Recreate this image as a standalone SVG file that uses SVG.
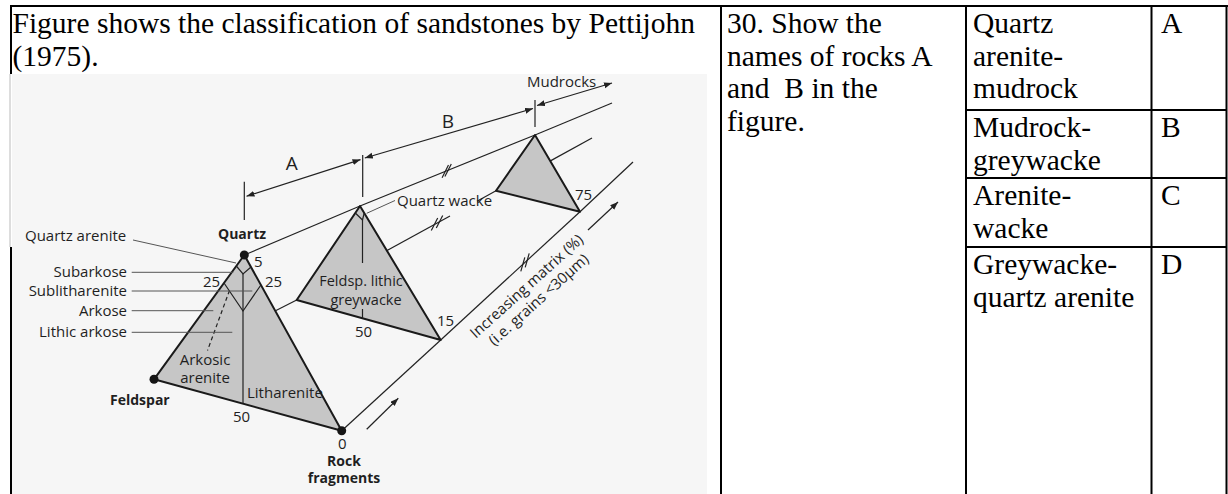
<svg xmlns="http://www.w3.org/2000/svg" width="1228" height="494" viewBox="0 0 1228 494">
<style>
.t{font-family:"Liberation Serif","Times New Roman",serif;font-size:29.5px;fill:#000}
.f{font-family:"Open Sans","Liberation Sans",sans-serif;font-size:15px;fill:#1f1f1f}
.fs{font-family:"Open Sans","Liberation Sans",sans-serif;font-size:14.5px;fill:#1f1f1f}
.fb{font-family:"Open Sans","Liberation Sans",sans-serif;font-size:14px;font-weight:700;fill:#1f1f1f}
.fa{font-family:"Open Sans","Liberation Sans",sans-serif;font-size:19px;fill:#1f1f1f}
.ln{stroke:#222;stroke-width:1.2;fill:none}
.ld{stroke:#555;stroke-width:1;fill:none}
.tri{fill:#c6c6c6;stroke:#1a1a1a;stroke-width:2;stroke-linejoin:round}
.grid{stroke:#000;stroke-width:2;fill:none}
.dot{fill:#151515}
</style>
<defs>
<marker id="ah" markerUnits="userSpaceOnUse" markerWidth="9" markerHeight="7" refX="8" refY="3" orient="auto-start-reverse">
<path d="M0,0 L8,3 L0,6 z" fill="#222"/>
</marker>
</defs>
<rect x="0" y="0" width="1228" height="494" fill="#fff"/>

<g id="figure-image">
<rect x="12" y="74" width="695" height="420" fill="#f6f6f6"/>

<g id="prism-lines">
<line class="ln" x1="244.3" y1="255" x2="360" y2="206"/>
<line class="ln" x1="360" y1="206" x2="535" y2="135"/>
<line class="ln" x1="535" y1="135" x2="612" y2="103"/>
<line class="ln" x1="275.5" y1="310.8" x2="296.7" y2="300"/>
<line class="ln" x1="296.7" y1="300" x2="450" y2="216"/>
<line class="ln" x1="477" y1="201.2" x2="496" y2="190.7"/>
<line class="ln" x1="549.5" y1="161.4" x2="592" y2="138"/>
<line class="ln" x1="341.7" y1="430.7" x2="440.7" y2="340"/>
<line class="ln" x1="440.7" y1="340" x2="580" y2="211.7"/>
<line class="ln" x1="580" y1="211.7" x2="633" y2="162"/>
<line class="ln" x1="442.1" y1="177.7" x2="448.5" y2="165.1"/>
<line class="ln" x1="444.9" y1="176.5" x2="451.3" y2="163.9"/>
<line class="ln" x1="431.3" y1="230.6" x2="437.7" y2="218"/>
<line class="ln" x1="436.3" y1="228" x2="442.7" y2="215.4"/>
<line class="ln" x1="520.8" y1="271.4" x2="524.8" y2="257.4"/>
<line class="ln" x1="525.2" y1="267.4" x2="529.2" y2="253.4"/>
<line class="ln" x1="366.7" y1="429.3" x2="398.3" y2="398.3" marker-end="url(#ah)"/>
<line class="ln" x1="588" y1="230" x2="618" y2="202" marker-end="url(#ah)"/>
</g>

<g id="dimensions">
<line class="ln" x1="244.3" y1="181.7" x2="244.3" y2="220"/>
<line class="ln" x1="362.7" y1="155" x2="362.7" y2="197"/>
<line class="ln" x1="535" y1="100" x2="535" y2="127"/>
<line class="ln" x1="246.5" y1="196.2" x2="360.5" y2="159.6" marker-start="url(#ah)" marker-end="url(#ah)"/>
<line class="ln" x1="364.8" y1="158" x2="533" y2="108.5" marker-start="url(#ah)" marker-end="url(#ah)"/>
<line class="ln" x1="537" y1="105.5" x2="612" y2="83" marker-start="url(#ah)" marker-end="url(#ah)"/>
<text class="fa" x="291.7" y="170" text-anchor="middle">A</text>
<text class="fa" x="448" y="128" text-anchor="middle">B</text>
<text class="f" x="527" y="86.5">Mudrocks</text>
</g>

<g id="triangle-1">
<polygon class="tri" points="244.3,255 154,379.3 341.7,430.7"/>
<polyline class="ln" points="236.3,266 243,274 251,267"/>
<polyline class="ln" points="224,283 243,311 260.9,285"/>
<line class="ln" x1="243" y1="274" x2="243" y2="403.6"/>
<line class="ln" x1="229.5" y1="290.5" x2="207.5" y2="350.5" stroke-dasharray="4 3"/>
<line class="ld" x1="133" y1="240" x2="236" y2="263"/>
<line class="ld" x1="131.7" y1="272.3" x2="233.3" y2="272.3"/>
<line class="ld" x1="131.7" y1="291" x2="252.3" y2="291"/>
<line class="ld" x1="131.7" y1="310.7" x2="213.3" y2="310.7"/>
<line class="ld" x1="131.7" y1="332.3" x2="232.3" y2="332.3"/>
<circle class="dot" cx="244.3" cy="255" r="4.5"/>
<circle class="dot" cx="154" cy="379.3" r="4.5"/>
<circle class="dot" cx="341.7" cy="430.7" r="4.5"/>
<text class="f" x="25" y="241">Quartz arenite</text>
<text class="f" x="127" y="277" text-anchor="end">Subarkose</text>
<text class="f" x="127" y="296" text-anchor="end">Sublitharenite</text>
<text class="f" x="127" y="316" text-anchor="end">Arkose</text>
<text class="f" x="127" y="337" text-anchor="end">Lithic arkose</text>
<text class="fb" x="218" y="239">Quartz</text>
<text class="f" x="254" y="267">5</text>
<text class="f" x="203" y="287">25</text>
<text class="f" x="265" y="287">25</text>
<text class="f" x="205" y="364.5" text-anchor="middle">Arkosic</text>
<text class="f" x="205" y="383" text-anchor="middle">arenite</text>
<text class="f" x="247" y="397.5">Litharenite</text>
<text class="fb" x="110" y="404.5">Feldspar</text>
<text class="f" x="233" y="421.5">50</text>
<text class="f" x="338" y="449">0</text>
<text class="fb" x="344" y="466" text-anchor="middle">Rock</text>
<text class="fb" x="344" y="483" text-anchor="middle">fragments</text>
</g>

<g id="triangle-2">
<polygon class="tri" points="360,206 296.7,300 440.7,340"/>
<polyline class="ln" points="355.3,213 362.5,220 364.2,213"/>
<line class="ln" x1="362.5" y1="220" x2="362.5" y2="263"/>
<line class="ln" x1="362.5" y1="309" x2="362.5" y2="318.3"/>
<line class="ld" x1="366.7" y1="213.3" x2="395" y2="200.5"/>
<text class="fs" x="361" y="285.5" text-anchor="middle">Feldsp. lithic</text>
<text class="fs" x="366" y="304.5" text-anchor="middle">greywacke</text>
<text class="f" x="355" y="337">50</text>
<text class="f" x="437" y="326">15</text>
<text class="f" x="397" y="206">Quartz wacke</text>
</g>

<g id="triangle-3">
<polygon class="tri" points="535,135 496,190.7 580,211.7"/>
<text class="f" x="575" y="200">75</text>
</g>

<g id="axis-label">
<text class="f" x="530" y="290" text-anchor="middle" transform="rotate(-42 530 290)">Increasing matrix (%)</text>
<text class="f" x="542" y="303.4" text-anchor="middle" transform="rotate(-42 542 303.4)">(i.e. grains &lt;30μm)</text>
</g>
</g>

<g id="table-lines">
<line class="grid" x1="10" y1="6" x2="1228" y2="6" stroke-width="1.5"/>
<line class="grid" x1="11" y1="6" x2="11" y2="74"/>
<line x1="10" y1="74" x2="10" y2="247" stroke="#bbb" stroke-width="1"/>
<line class="grid" x1="11" y1="247" x2="11" y2="494"/>
<line class="grid" x1="721" y1="6" x2="721" y2="494"/>
<line class="grid" x1="966" y1="6" x2="966" y2="494"/>
<line class="grid" x1="1151.5" y1="6" x2="1151.5" y2="494"/>
<line class="grid" x1="1226.5" y1="6" x2="1226.5" y2="494"/>
<line class="grid" x1="966" y1="110" x2="1227" y2="110"/>
<line class="grid" x1="966" y1="178" x2="1227" y2="178"/>
<line class="grid" x1="966" y1="247" x2="1227" y2="247"/>
</g>

<g id="cell-figure-caption">
<text class="t" x="12.5" y="33">Figure shows the classification of sandstones by Pettijohn</text>
<text class="t" x="12.5" y="65.5">(1975).</text>
</g>
<g id="cell-question">
<text class="t" x="727" y="33">30. Show the</text>
<text class="t" x="727" y="65.5">names of rocks A</text>
<text class="t" x="727" y="98">and&#160; B in the</text>
<text class="t" x="727" y="130.5">figure.</text>
</g>
<g id="option-A">
<text class="t" x="973" y="33">Quartz</text>
<text class="t" x="973" y="65.5">arenite-</text>
<text class="t" x="973" y="98">mudrock</text>
<text class="t" x="1161" y="33">A</text>
</g>
<g id="option-B">
<text class="t" x="973" y="137">Mudrock-</text>
<text class="t" x="973" y="169.5">greywacke</text>
<text class="t" x="1161" y="137">B</text>
</g>
<g id="option-C">
<text class="t" x="973" y="205">Arenite-</text>
<text class="t" x="973" y="237.5">wacke</text>
<text class="t" x="1161" y="205">C</text>
</g>
<g id="option-D">
<text class="t" x="973" y="274">Greywacke-</text>
<text class="t" x="973" y="306.5">quartz arenite</text>
<text class="t" x="1161" y="274">D</text>
</g>
</svg>
